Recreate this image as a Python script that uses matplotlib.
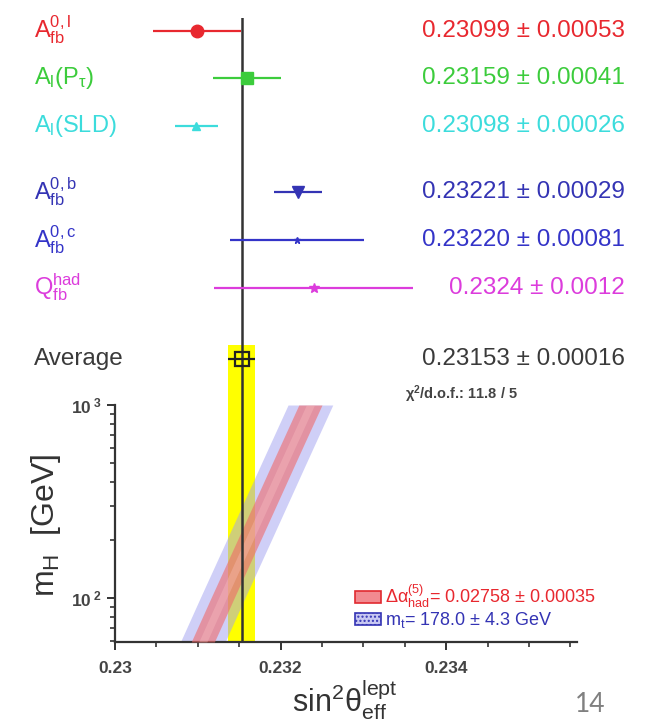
import matplotlib
matplotlib.use("Agg")
import matplotlib.pyplot as plt
import numpy as np
from matplotlib.patches import Patch
from matplotlib.ticker import FixedLocator, MultipleLocator, NullFormatter

plt.rcParams['font.family'] = ['Liberation Sans', 'DejaVu Sans']
plt.rcParams['mathtext.fontset'] = 'custom'
plt.rcParams['mathtext.rm'] = 'Liberation Sans'
plt.rcParams['mathtext.it'] = 'Liberation Sans'
plt.rcParams['mathtext.bf'] = 'Liberation Sans:bold'
plt.rcParams['mathtext.default'] = 'regular'

# measurements of sin^2 theta_eff^lept
labels = [r'$A_{fb}^{0,l}$', r'$A_l(P_\tau)$', r'$A_l(SLD)$',
          r'$A_{fb}^{0,b}$', r'$A_{fb}^{0,c}$', r'$Q_{fb}^{had}$']
meas_str = ['0.23099', '0.23159', '0.23098', '0.23221', '0.23220', '0.2324']
err_str = ['0.00053', '0.00041', '0.00026', '0.00029', '0.00081', '0.0012']
colors = ['#e8282f', '#3ccc3c', '#3cdcdc', '#3434b4', '#3434c8', '#dc3cdc']
markers = ['o', 's', '^', 'v', '*', '*']
msizes = [9, 9, 6, 8, 5, 7]

avg_str = '0.23153'
avg_err_str = '0.00016'
chi2_text = r'$\chi^2$/d.o.f.: 11.8 / 5'

# SM prediction bands
mh_grid = [59, 100, 200, 500, 1000]
band_center = [0.23106, 0.23130, 0.23162, 0.23204, 0.23236]
alpha_halfwidth = 0.00014
mt_halfwidth = 0.00027
legend_alpha = r'$\Delta\alpha_{had}^{(5)}$= 0.02758 ± 0.00035'
legend_mt = r'$m_t$= 178.0 ± 4.3 GeV'

values = [float(s) for s in meas_str]
errors = [float(s) for s in err_str]
avg = float(avg_str)
avg_err = float(avg_err_str)

# row layout (top panel)
rows = [0, 1, 2, 3.4, 4.4, 5.4]
avg_row = 6.9

xlim = (0.23, 0.23558)

fig = plt.figure(figsize=(6.49, 7.27), dpi=100)
W, H = 649, 727
ax_top = fig.add_axes([115 / W, (H - 405) / H, 462 / W, 387 / H])
ax = fig.add_axes([115 / W, (H - 642) / H, 462 / W, 237 / H])

# ---- top panel: measurements ----
ax_top.set_xlim(*xlim)
ax_top.set_ylim(7.87, -0.27)
ax_top.axis('off')

for y, v, e, c, m, ms, lab, vs, es in zip(rows, values, errors, colors, markers,
                                           msizes, labels, meas_str, err_str):
    ax_top.errorbar(v, y, xerr=e, fmt=m, color=c, ms=ms, lw=1.6, capsize=0, zorder=3)
    ax_top.text(-0.175, y, lab, transform=ax_top.get_yaxis_transform(),
                color=c, fontsize=17, ha='left', va='center')
    ax_top.text(1.104, y, vs + ' ± ' + es, transform=ax_top.get_yaxis_transform(),
                color=c, fontsize=17.5, ha='right', va='center')

ax_top.fill_betweenx([avg_row - 0.3, 7.87], avg - avg_err, avg + avg_err,
                     color='#ffff00', lw=0, zorder=1)
ax_top.errorbar(avg, avg_row, xerr=avg_err, fmt='s', mfc='none', mec='#222222',
                color='#222222', ms=10, mew=1.6, lw=1.6, zorder=4)
ax_top.axvline(avg, color='#333333', lw=1.8, zorder=2)
ax_top.text(-0.175, avg_row, 'Average', transform=ax_top.get_yaxis_transform(),
            color='#3a3a3a', fontsize=17.5, ha='left', va='center')
ax_top.text(1.104, avg_row, avg_str + ' ± ' + avg_err_str,
            transform=ax_top.get_yaxis_transform(),
            color='#3a3a3a', fontsize=17.5, ha='right', va='center')

# ---- bottom panel: m_H vs sin^2 theta ----
mh = np.array(mh_grid, dtype=float)
cen = np.array(band_center)
ax.axvspan(avg - avg_err, avg + avg_err, color='#ffff00', lw=0, zorder=1)
ax.fill_betweenx(mh, cen - mt_halfwidth, cen + mt_halfwidth,
                 color='#a0a0f0', alpha=0.5, lw=0, zorder=2)
ax.fill_betweenx(mh, cen - alpha_halfwidth, cen + alpha_halfwidth,
                 color='#f06a6a', alpha=0.6, lw=0, zorder=3)
ax.fill_betweenx(mh, cen - alpha_halfwidth * 0.35, cen + alpha_halfwidth * 0.35,
                 color='#ffc8c8', alpha=0.3, lw=0, zorder=3)
ax.axvline(avg, color='#333333', lw=1.8, zorder=4)

ax.set_yscale('log')
ax.set_xlim(*xlim)
ax.set_ylim(59, 1000)
for s in ['top', 'right']:
    ax.spines[s].set_visible(False)
for s in ['left', 'bottom']:
    ax.spines[s].set_color('#333333')
    ax.spines[s].set_linewidth(1.6)

ax.xaxis.set_major_locator(FixedLocator([0.23, 0.232, 0.234]))
ax.set_xticklabels(['0.23', '0.232', '0.234'])
ax.xaxis.set_minor_locator(MultipleLocator(0.0005))
ax.yaxis.set_major_locator(FixedLocator([100, 1000]))
ax.set_yticklabels([r'$10^{\ 2}$', r'$10^{\ 3}$'])
ax.yaxis.set_minor_formatter(NullFormatter())
ax.tick_params(axis='both', which='major', direction='out', length=6, width=1.4,
               color='#333333', labelsize=12.5, labelcolor='#444444')
ax.tick_params(axis='x', which='major', pad=8)
ax.tick_params(axis='both', which='minor', direction='out', length=3.5, width=1.2,
               color='#333333')
for t in ax.get_xticklabels() + ax.get_yticklabels():
    t.set_fontweight('bold')

ax.text(0.628, 1.045, chi2_text, transform=ax.transAxes, fontsize=10.5,
        fontweight='bold', color='#444444', ha='left', va='center')

handles = [Patch(facecolor='#f28a90', edgecolor='#e02a30', lw=1.2, label=legend_alpha),
           Patch(facecolor='#c8c8f2', edgecolor='#3434b4', hatch='....', lw=1.2,
                 label=legend_mt)]
ax.legend(handles=handles, loc='lower left', bbox_to_anchor=(0.52, 0.05),
          frameon=False, fontsize=13, labelcolor=['#e8282f', '#3434b4'],
          handlelength=1.4, handleheight=0.65, handletextpad=0.25, labelspacing=0.0,
          borderaxespad=0.0, borderpad=0.0)

fig.text(345 / W, 1 - 700 / H, r'$sin^2\theta_{eff}^{lept}$', fontsize=22,
         color='#333333', ha='center', va='center')
fig.text(46 / W, 1 - 525 / H, r'$m_H$  [GeV]', fontsize=23, rotation=90,
         color='#333333', ha='center', va='center')
fig.text(590 / W, 1 - 704 / H, '14', fontsize=19, color='#808080',
         family='Lato', ha='center', va='center')

fig.savefig('out.png', dpi=100)
